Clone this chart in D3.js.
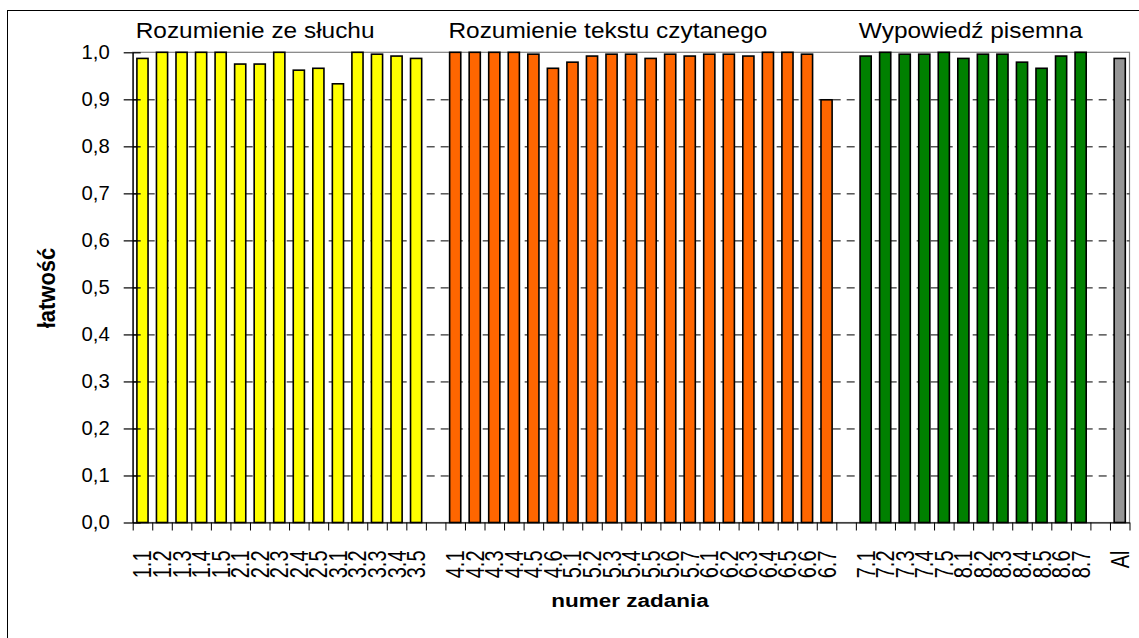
<!DOCTYPE html>
<html><head><meta charset="utf-8">
<script src="https://cdn.jsdelivr.net/npm/d3@7"></script>
<style>body{margin:0;background:#fff}svg{display:block}text{font-family:"Liberation Sans",Arial,sans-serif;fill:#000}</style>
</head><body>
<script>
// ---- data ----
const listeningLabels = ["1.1","1.2","1.3","1.4","1.5","2.1","2.2","2.3","2.4","2.5","3.1","3.2","3.3","3.4","3.5"];
const listeningValues = [0.987,1.0,1.0,1.0,1.0,0.975,0.975,1.0,0.962,0.966,0.933,1.0,0.996,0.992,0.987];
const readingLabels = ["4.1","4.2","4.3","4.4","4.5","4.6","5.1","5.2","5.3","5.4","5.5","5.6","5.7","6.1","6.2","6.3","6.4","6.5","6.6","6.7"];
const readingValues = [1.0,1.0,1.0,1.0,0.996,0.966,0.979,0.992,0.996,0.996,0.987,0.996,0.992,0.996,0.996,0.992,1.0,1.0,0.996,0.899];
const writingLabels = ["7.1","7.2","7.3","7.4","7.5","8.1","8.2","8.3","8.4","8.5","8.6","8.7"];
const writingValues = [0.992,1.0,0.996,0.996,1.0,0.987,0.996,0.996,0.979,0.966,0.992,1.0];
const overallLabels = ["Al"];
const overallValues = [0.987];
const groupTitles = ["Rozumienie ze słuchu","Rozumienie tekstu czytanego","Wypowiedź pisemna"];
const yTickValues = [0,0.1,0.2,0.3,0.4,0.5,0.6,0.7,0.8,0.9,1.0];
const yTickLabels = ["0,0","0,1","0,2","0,3","0,4","0,5","0,6","0,7","0,8","0,9","1,0"];
const yTitle = "łatwość";
const xTitle = "numer zadania";

// ---- build slots ----
const groups = [
  {labels:listeningLabels, values:listeningValues, color:"#FFFF00", title:groupTitles[0]},
  {labels:readingLabels, values:readingValues, color:"#FF6600", title:groupTitles[1]},
  {labels:writingLabels, values:writingValues, color:"#008000", title:groupTitles[2]},
  {labels:overallLabels, values:overallValues, color:"#969696", title:null}
];
const slots = [];
const bars = [];
const gTitles = [];
groups.forEach((g,gi)=>{
  if(gi>0) slots.push("gap"+gi);
  g.labels.forEach((l,i)=>{ slots.push(l); bars.push({label:l, value:g.values[i], color:g.color}); });
  if(g.title) gTitles.push({title:g.title, first:g.labels[0]});
});

const W=1139,H=638;
const X0=132.7, X1=1129.5, YT=52.3, YB=522.5;

const svg=d3.select("body").append("svg").attr("width",W).attr("height",H);
svg.append("rect").attr("x",7.5).attr("y",10.5).attr("width",W+20).attr("height",H+20)
  .attr("fill","none").attr("stroke","#000").attr("stroke-width",1);

const x=d3.scaleBand().domain(slots).range([X0,X1]).paddingInner(0).paddingOuter(0);
const y=d3.scaleLinear().domain([0,1]).range([YB,YT]);
const xb=d3.scaleLinear().domain([0,slots.length]).range([X0,X1]);

// plot area border
svg.append("rect").attr("x",X0).attr("y",y(1)).attr("width",X1-X0).attr("height",YB-y(1))
  .attr("fill","none").attr("stroke","#808080").attr("stroke-width",1.2);

// gridlines (dashed)
const grid=svg.append("g").attr("class","grid").attr("transform",`translate(${X0},0)`)
  .call(d3.axisRight(y).tickValues(yTickValues.filter(v=>v>0&&v<1)).tickFormat("").tickSize(X1-X0).tickSizeOuter(0));
grid.select(".domain").remove();
grid.selectAll(".tick line").attr("stroke","#000").attr("stroke-width",1).attr("stroke-dasharray","8,6");

// bars
const bw=x.bandwidth()*0.57;
svg.append("g").selectAll("rect").data(bars).join("rect")
  .attr("x",d=>x(d.label)+(x.bandwidth()-bw)/2)
  .attr("y",d=>y(d.value))
  .attr("width",bw)
  .attr("height",d=>YB-y(d.value))
  .attr("fill",d=>d.color).attr("stroke","#000").attr("stroke-width",1.6);

// y axis
const yAxis=d3.axisLeft(y).tickValues(yTickValues).tickFormat((d,i)=>yTickLabels[i]).tickSizeInner(9).tickSizeOuter(0).tickPadding(14);
const ya=svg.append("g").attr("transform",`translate(${X0},0)`).call(yAxis);
ya.select(".domain").attr("stroke","#000").attr("stroke-width",1.2);
ya.selectAll(".tick line").attr("stroke","#000").attr("stroke-width",1.2);
ya.selectAll(".tick text").attr("font-size",19.5).attr("font-family","Liberation Sans")
  .each(function(){
    const t=d3.select(this); const xx=+t.attr("x");
    t.attr("x",null).attr("transform",`translate(${xx},0) scale(1.04,1)`);
  });
const yIn=d3.axisRight(y).tickValues(yTickValues).tickFormat("").tickSizeInner(8).tickSizeOuter(0);
const yi=svg.append("g").attr("transform",`translate(${X0},0)`).call(yIn);
yi.select(".domain").remove();
yi.selectAll(".tick line").attr("stroke","#000").attr("stroke-width",1.2);

// x axis ticks at boundaries
const xAxis=d3.axisBottom(xb).tickValues(d3.range(slots.length+1)).tickFormat("").tickSizeInner(8).tickSizeOuter(0);
const xa=svg.append("g").attr("transform",`translate(0,${YB})`).call(xAxis);
xa.select(".domain").attr("stroke","#000").attr("stroke-width",1.2);
xa.selectAll(".tick line").attr("stroke","#000").attr("stroke-width",1);

// x labels
const xl=svg.append("g").attr("transform",`translate(0,${YB})`)
  .call(d3.axisBottom(x).tickValues(bars.map(b=>b.label)).tickSize(0));
xl.select(".domain").remove();
xl.selectAll(".tick text")
  .attr("y",null).attr("dy",null)
  .attr("font-size",20).attr("font-family","Liberation Sans")
  .attr("text-anchor","end").attr("dominant-baseline","central")
  .attr("transform",`translate(0,28) scale(1.3,1) rotate(-90)`);

// group titles
svg.append("g").selectAll("text").data(gTitles).join("text")
  .attr("transform",d=>`translate(${x(d.first)+3},37.5) scale(1.11,1)`)
  .attr("font-size",22).text(d=>d.title);

// axis titles
svg.append("text").attr("transform",`translate(630,607) scale(1.25,1)`)
  .attr("text-anchor","middle").attr("font-size",18).attr("font-weight","bold").text(xTitle);
svg.append("text").attr("transform",`translate(55,288) scale(1.1,1) rotate(-90)`)
  .attr("text-anchor","middle").attr("font-size",22).attr("font-weight","bold").text(yTitle);
</script>
</body></html>
